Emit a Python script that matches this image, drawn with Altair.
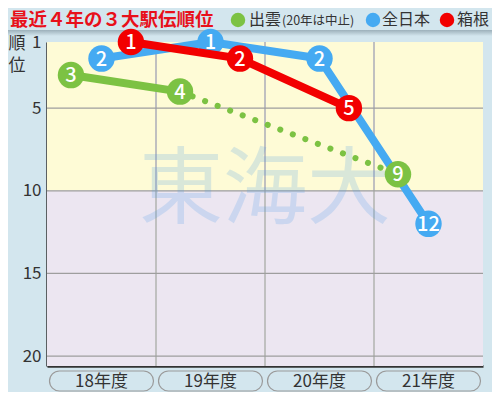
import altair as alt
import pandas as pd

# ---- data ----
years = ["18年度", "19年度", "20年度", "21年度"]
izumo = [3, 4, None, 9]          # 20年度は中止
zennihon = [2, 1, 2, 12]
hakone = [1, 2, 5, None]

series_names = ["出雲", "全日本", "箱根"]
series_values = [izumo, zennihon, hakone]
series_colors = ["#7cc243", "#45aaf2", "#f20000"]
series_offsets = [-0.28, 0.0, 0.27]

ytick_values = [1, 5, 10, 15, 20]
band_from = [1, 10]
band_to = [10, 20.6]
band_colors = ["#fefbd6", "#ece6f1"]
vgrid_values = [0.5, 1.5, 2.5]
hgrid_values = [5, 10, 15, 20]

FONT = "Noto Sans CJK JP"
BG = "#d3e6ee"

rows = []
for name, vals, off in zip(series_names, series_values, series_offsets):
    for yi, r in enumerate(vals):
        if r is not None:
            rows.append({"series": name, "yi": yi, "rank": r, "xpos": yi + off})
df = pd.DataFrame(rows)

years_df = pd.DataFrame({"year": years, "yi": list(range(len(years)))})
bands_df = pd.DataFrame({"y0": band_from, "y1": band_to, "color": band_colors})
vgrid_df = pd.DataFrame({"v": vgrid_values})
hgrid_df = pd.DataFrame({"h": hgrid_values})

xscale = alt.Scale(domain=[-0.5, 3.5], nice=False, zero=False)
yscale = alt.Scale(domain=[1, 20.6], reverse=True, nice=False, zero=False)
xaxis = alt.Axis(labels=False, ticks=False, grid=False, title=None,
                 domainColor="#333333", domainWidth=2.5)
yaxis = alt.Axis(values=ytick_values, ticks=False, grid=False, title=None,
                 domainColor="#333333", domainWidth=2.5, labelFontSize=17,
                 labelColor="#333333", labelPadding=6, labelFont=FONT)


def X(field):
    return alt.X(field, scale=xscale, axis=xaxis)


def Y(field):
    return alt.Y(field, scale=yscale, axis=yaxis)


one = pd.DataFrame({"a": [0]})

# header shadow (drawn first so circles sit above it)
shadow = alt.Chart(one).mark_rect(
    color=alt.Gradient(gradient="linear",
                       stops=[alt.GradientStop(color="#9cb0ba", offset=0),
                              alt.GradientStop(color=BG, offset=1)],
                       x1=0, x2=0, y1=0, y2=1)).encode(
    x=alt.value(-39), x2=alt.value(445), y=alt.value(-12), y2=alt.value(-6))

# background bands
bands = alt.Chart(bands_df).mark_rect().encode(
    x=alt.value(0), x2=alt.value(436),
    y=Y("y0:Q"), y2="y1:Q",
    color=alt.Color("color:N", scale=None),
)
vgrid = alt.Chart(vgrid_df).mark_rule(color="#c0c0c0", strokeWidth=2).encode(
    x=X("v:Q"), y=alt.value(0), y2=alt.value(324))
hgrid = alt.Chart(hgrid_df).mark_rule(color="#9e9e9e", strokeWidth=1.3).encode(
    y=Y("h:Q"), x=alt.value(0), x2=alt.value(436))

watermark = alt.Chart(one).mark_text(
    text="東海大", font=FONT, fontSize=84, color="#4a9be8", opacity=0.2,
    align="center", baseline="middle").encode(x=alt.value(218), y=alt.value(150))

layers = [shadow, bands, vgrid, hgrid, watermark]

order_draw = ["全日本", "出雲", "箱根"]
for name in order_draw:
    i = series_names.index(name)
    c = series_colors[i]
    base = alt.Chart(df).transform_filter(alt.datum.series == name)
    if name == "出雲":
        solid = base.transform_filter("datum.yi <= 1").mark_line(
            color=c, strokeWidth=8).encode(x=X("xpos:Q"), y=Y("rank:Q"), order="yi:Q")
        dotted = base.transform_filter("datum.yi >= 1").mark_line(
            color=c, strokeWidth=6, strokeDash=[0.1, 13.3], strokeCap="round").encode(
            x=X("xpos:Q"), y=Y("rank:Q"), order="yi:Q")
        layers += [dotted, solid]
    else:
        line = base.mark_line(color=c, strokeWidth=8).encode(
            x=X("xpos:Q"), y=Y("rank:Q"), order="yi:Q")
        layers.append(line)
    pts = base.mark_circle(size=700, color=c, opacity=1).encode(
        x=X("xpos:Q"), y=Y("rank:Q"))
    txt = base.mark_text(color="white", fontSize=20, font=FONT, fontWeight=500,
                         align="center", baseline="middle", dy=1).encode(
        x=X("xpos:Q"), y=Y("rank:Q"), text="rank:Q")
    layers += [pts, txt]

# year pills
pill_base = alt.Chart(years_df).transform_calculate(
    xa="datum.yi - 0.477", xb="datum.yi + 0.477")
pills = pill_base.mark_rect(cornerRadius=10, fill=BG, stroke="#9a9a9a",
                            strokeWidth=1.2).encode(
    x=X("xa:Q"), x2="xb:Q", y=alt.value(329), y2=alt.value(349))
pill_text = pill_base.mark_text(font=FONT, fontSize=17, color="#333333",
                                align="center", baseline="middle").encode(
    x=X("yi:Q"), y=alt.value(339.5), text="year:N")
layers += [pills, pill_text]

# y-axis title (stacked)
ytitle1 = alt.Chart(one).mark_text(
    text="順", font=FONT, fontSize=17, color="#333333", align="center",
    baseline="middle").encode(x=alt.value(-30), y=alt.value(2))
ytitle2 = alt.Chart(one).mark_text(
    text="位", font=FONT, fontSize=17, color="#333333", align="center",
    baseline="middle").encode(x=alt.value(-30), y=alt.value(24))
layers += [ytitle1, ytitle2]

# title
title = alt.Chart(one).mark_text(
    text="最近４年の３大駅伝順位", font=FONT, fontSize=18.5, fontWeight="bold",
    color="#e8101a", align="left", baseline="middle").encode(
    x=alt.value(-37), y=alt.value(-22))
layers.append(title)

# legend
leg_y = -22
leg_circles = pd.DataFrame({"series": series_names, "color": series_colors,
                            "px": [191, 326, 400]})
legend_dots = alt.Chart(leg_circles).mark_circle(size=210, opacity=1).encode(
    x=alt.X("px:Q", scale=None), y=alt.value(leg_y),
    color=alt.Color("color:N", scale=None))
leg_labels = pd.DataFrame({"label": ["出雲", "全日本", "箱根"], "px": [202, 335, 410]})
legend_text = alt.Chart(leg_labels).mark_text(
    font=FONT, fontSize=16, color="#333333", align="left", baseline="middle").encode(
    x=alt.X("px:Q", scale=None), y=alt.value(leg_y), text="label:N")
legend_note = alt.Chart(one).mark_text(
    text="(20年は中止)", font=FONT, fontSize=12.5, color="#333333",
    align="left", baseline="middle").encode(x=alt.value(235), y=alt.value(leg_y + 1))
layers += [legend_dots, legend_text, legend_note]

chart = alt.layer(*layers).properties(
    width=436, height=324,
    padding={"left": 39, "top": 34, "right": 9, "bottom": 26},
    autosize=alt.AutoSizeParams(type="none"),
    background=BG,
).configure_view(stroke=None)

chart.save("out.html", embed_options={"renderer": "svg", "actions": False})
